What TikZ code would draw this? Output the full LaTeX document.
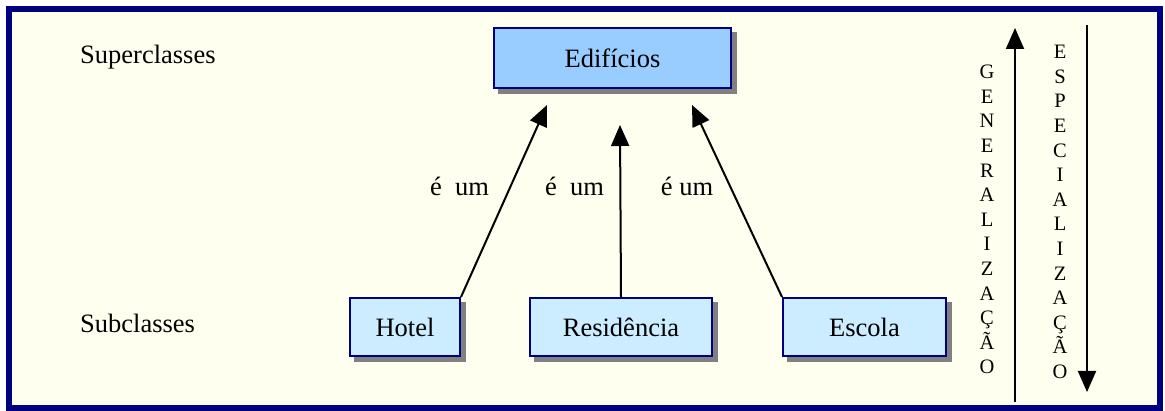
\documentclass[tikz,border=0pt]{standalone}
\usepackage{fontspec}
\setmainfont{Liberation Serif}
\usetikzlibrary{arrows.meta}
\definecolor{navyc}{HTML}{000080}
\definecolor{creamc}{HTML}{FFFFEF}
\definecolor{supfill}{HTML}{99CCFF}
\definecolor{subfill}{HTML}{CCECFF}
\definecolor{shadowc}{HTML}{808080}
\begin{document}
\begin{tikzpicture}[x=1pt,y=-1pt,
  shadowed/.style={preaction={fill=shadowc, draw=shadowc, transform canvas={shift={(5pt,-5pt)}}}},
  classbox/.style={shadowed, draw=navyc, line width=2pt, anchor=north west, inner sep=0pt,
     minimum height=58pt, font=\fontsize{26.5}{30}\selectfont},
  lbl/.style={font=\fontsize{26.5}{30}\selectfont, inner sep=0pt, anchor=base},
  side/.style={font=\fontsize{26.5}{30}\selectfont, inner sep=0pt, anchor=base west},
  vert/.style={font=\fontsize{20.5}{24.6}\selectfont, inner sep=0pt, anchor=north, align=center},
  arr/.style={line width=2pt, -{Triangle[length=21pt,width=18pt]}}
]
\useasboundingbox (0,0) rectangle (1165,411);
\fill[white] (0,0) rectangle (1165,411);
\draw[navyc, line width=6pt, fill=creamc] (8.5,9.5) rectangle (1160,408.5);

\node[side] (sup) at (80,64) {Superclasses};
\node[side] (sub) at (80,333) {Subclasses};

\node[classbox, fill=supfill, minimum width=237pt, minimum height=60pt] (edif) at (493,27) {Edifícios};
\node[classbox, fill=subfill, minimum width=110pt] (hotel) at (349,297) {Hotel};
\node[classbox, fill=subfill, minimum width=182pt] (res) at (529,297) {Residência};
\node[classbox, fill=subfill, minimum width=163pt] (escola) at (782,297) {Escola};

\coordinate (t1) at (547,105);
\coordinate (t2) at (620,125);
\coordinate (t3) at (692,105);
\draw[arr] (hotel.north east) -- (t1);
\draw[arr] (res.north) -- (t2);
\draw[arr] (escola.north west) -- (t3);

\node[lbl] (l1) at (459.5,196) {é\ \ um};
\node[lbl] (l2) at (574.5,196) {é\ \ um};
\node[lbl] (l3) at (687,196) {é um};

\coordinate (g1) at (1015,402);
\coordinate (g2) at (1015,28);
\coordinate (e1) at (1087,25);
\coordinate (e2) at (1087,392);
\draw[arr] (g1) -- (g2);
\draw[arr] (e1) -- (e2);

\node[vert] (gen) at (987,65) {G\\E\\N\\E\\R\\A\\L\\I\\Z\\A\\Ç\\Ã\\O};
\node[vert] (esp) at (1060,45) {E\\S\\P\\E\\C\\I\\A\\L\\I\\Z\\A\\Ç\\Ã\\O};
\end{tikzpicture}
\end{document}
